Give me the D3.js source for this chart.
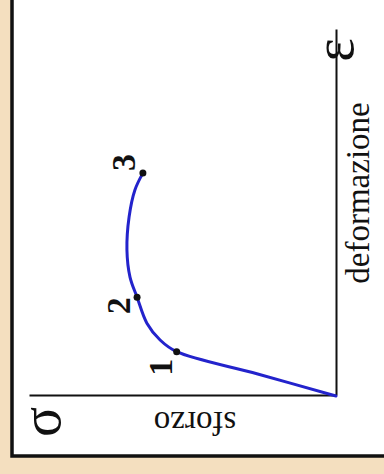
<!DOCTYPE html>
<html>
<head>
<meta charset="utf-8">
<script src="https://cdn.jsdelivr.net/npm/d3@7"></script>
<style>
  html, body { margin: 0; padding: 0; background: #f4dfbf; }
  svg { display: block; }
</style>
</head>
<body>
<svg id="chart" width="384" height="474"></svg>
<script>
// ---- data (strain ε and stress σ, arbitrary % of axis length) ----
const strain = [0, 6.0, 12.1, 15.3, 19.9, 27.0, 32.5, 39.9, 48.9, 56.3, 60.9];
const stress = [0, 25.5, 51.9, 57.3, 61.6, 64.8, 67.1, 68.1, 67.4, 65.5, 62.9];
const markIndex = [2, 5, 10];
const markLabels = ["1", "2", "3"];
const xLabel = "deformazione";
const yLabel = "sforzo";
const xSymbol = "ε";
const ySymbol = "σ";

// ---- drawing ----
const svg = d3.select("#chart");

// white panel with black border
svg.append("rect")
  .attr("x", 12).attr("y", -10)
  .attr("width", 420).attr("height", 466)
  .attr("fill", "#ffffff")
  .attr("stroke", "#111").attr("stroke-width", 3.5);

// chart group: origin at (336,396), rotated so strain points up and stress points left
const g = svg.append("g").attr("transform", "translate(336,396) rotate(-90)");

const x = d3.scaleLinear().domain([0, 100]).range([0, 366]);
const y = d3.scaleLinear().domain([0, 100]).range([0, -307]);

const xAxis = g.append("g").call(d3.axisBottom(x).ticks(0).tickSizeOuter(0));
const yAxis = g.append("g").call(d3.axisLeft(y).ticks(0).tickSizeOuter(0));
[xAxis, yAxis].forEach(a => a.select(".domain").attr("stroke", "#111").attr("stroke-width", 2));

const pts = strain.map((s, i) => [s, stress[i]]);
const line = d3.line().x(d => x(d[0])).y(d => y(d[1])).curve(d3.curveCatmullRom.alpha(0.5));

g.append("path")
  .datum(pts)
  .attr("d", line)
  .attr("fill", "none")
  .attr("stroke", "#2323cc")
  .attr("stroke-width", 3)
  .attr("stroke-linecap", "round");

const marks = markIndex.map((idx, k) => ({ s: strain[idx], t: stress[idx], label: markLabels[k] }));
g.selectAll("circle.mk").data(marks).enter().append("circle")
  .attr("class", "mk")
  .attr("cx", d => x(d.s)).attr("cy", d => y(d.t))
  .attr("r", 3.5).attr("fill", "#111");

const labelOffsets = [[-15.5, -5], [-8.5, -7], [10.5, -8]];
g.selectAll("text.mk").data(marks).enter().append("text")
  .attr("class", "mk")
  .attr("x", (d, i) => x(d.s) + labelOffsets[i][0])
  .attr("y", (d, i) => y(d.t) + labelOffsets[i][1])
  .attr("text-anchor", "middle")
  .attr("font-family", "'Liberation Serif', 'Times New Roman', serif")
  .attr("font-weight", "bold")
  .attr("font-size", 34)
  .attr("fill", "#111")
  .text(d => d.label);

// axis titles
g.append("text")
  .attr("x", 203).attr("y", 33)
  .attr("text-anchor", "middle")
  .attr("font-family", "'Liberation Serif', 'Times New Roman', serif")
  .attr("font-size", 33)
  .attr("fill", "#111")
  .text(xLabel);

g.append("text")
  .attr("transform", "translate(-16,-141) rotate(-90)")
  .attr("text-anchor", "middle")
  .attr("font-family", "'Liberation Serif', 'Times New Roman', serif")
  .attr("font-size", 33)
  .attr("fill", "#111")
  .text(yLabel);

// symbols
g.append("text")
  .attr("x", 346).attr("y", 17)
  .attr("text-anchor", "middle")
  .attr("font-family", "'Liberation Serif', 'Times New Roman', serif")
  .attr("font-size", 56)
  .attr("fill", "#111")
  .text(xSymbol);

g.append("text")
  .attr("x", -26).attr("y", -276)
  .attr("text-anchor", "middle")
  .attr("font-family", "'Liberation Serif', 'Times New Roman', serif")
  .attr("font-size", 56)
  .attr("fill", "#111")
  .text(ySymbol);
</script>
</body>
</html>
